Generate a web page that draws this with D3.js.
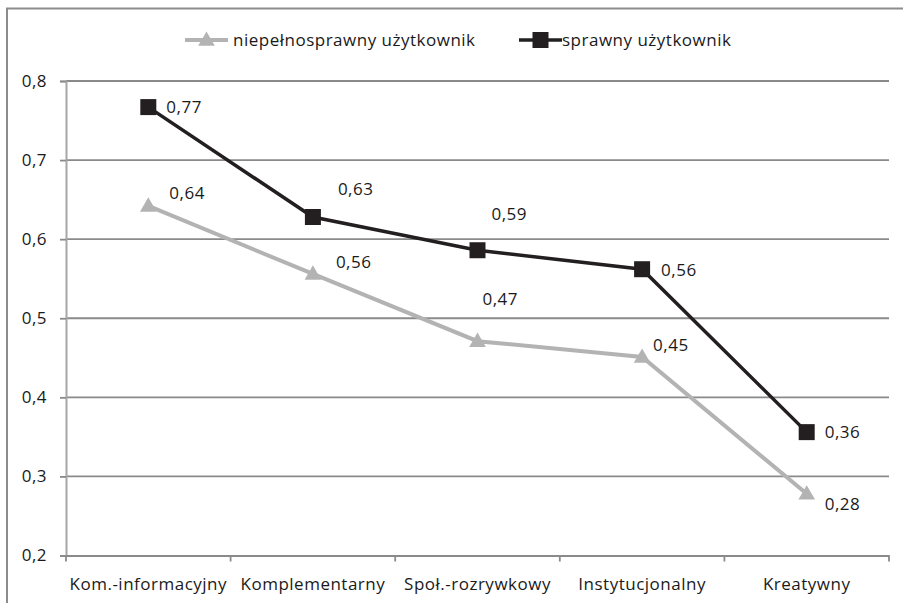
<!DOCTYPE html>
<html><head><meta charset="utf-8">
<script src="https://cdn.jsdelivr.net/npm/d3@7"></script>
<style>
html,body{margin:0;padding:0;background:#fff;}
text{font-family:"Open Sans",sans-serif;fill:#1a1a1a;letter-spacing:0.5px;}
</style></head>
<body>
<svg id="chart" width="903" height="603"></svg>
<script>
const categories = ["Kom.-informacyjny","Komplementarny","Społ.-rozrywkowy","Instytucjonalny","Kreatywny"];
const seriesNames = ["niepełnosprawny użytkownik","sprawny użytkownik"];
const disabledValues = [0.642, 0.556, 0.471, 0.451, 0.278];
const ableValues = [0.767, 0.628, 0.586, 0.562, 0.356];
const yTicks = [0.2,0.3,0.4,0.5,0.6,0.7,0.8];
// label offsets (styling), px relative to the marker
const disabledLabelOffsets = [[21,-7],[23,-6],[5,-36],[11,-6],[18,16]];
const ableLabelOffsets = [[18,6],[25,-22],[14,-30],[19,7],[18,6]];

(function(){
const svg = d3.select("#chart");
const fmt = v => d3.format(".2f")(v).replace(".", ",");
const fmt1 = v => d3.format(".1f")(v).replace(".", ",");
const FS = 17;

// outer frame (cropped on right/bottom)
svg.append("rect").attr("x",7).attr("y",8.5).attr("width",920).attr("height",620)
  .attr("fill","none").attr("stroke","#8c8c8c").attr("stroke-width",2);

const pL=66, pR=889, pT=81, pB=555.5;
const x = d3.scaleBand().domain(categories).range([pL,pR]);
const y = d3.scaleLinear().domain([0.2,0.8]).range([pB,pT]);

// gridlines
svg.append("g").selectAll("line").data(yTicks.slice(1)).join("line")
  .attr("x1",pL).attr("x2",pR).attr("y1",d=>y(d)).attr("y2",d=>y(d))
  .attr("stroke","#8a8a8a").attr("stroke-width",1.8);

// y axis
const yAxis = d3.axisLeft(y).tickValues(yTicks).tickFormat(fmt1).tickSize(6).tickPadding(13);
const gy = svg.append("g").attr("transform",`translate(${pL},0)`).call(yAxis);
gy.select(".domain").attr("stroke","#a6a6a6").attr("stroke-width",2);
gy.selectAll(".tick line").attr("stroke","#8a8a8a").attr("stroke-width",1.8);
gy.selectAll(".tick text").attr("font-size",FS).attr("font-family","Open Sans").attr("fill","#1a1a1a");

// x axis
const xAxis = d3.axisBottom(x).tickSize(0).tickPadding(22);
const gx = svg.append("g").attr("transform",`translate(0,${pB})`).call(xAxis);
gx.select(".domain").attr("stroke","#8a8a8a").attr("stroke-width",1.8);
gx.selectAll(".tick text").attr("font-size",FS).attr("font-family","Open Sans").attr("fill","#1a1a1a");
// band boundary ticks
svg.append("g").selectAll("line").data(categories.concat(["__end"])).join("line")
  .attr("x1",(d,i)=> i<categories.length ? x(d) : pR)
  .attr("x2",(d,i)=> i<categories.length ? x(d) : pR)
  .attr("y1",pB).attr("y2",pB+6)
  .attr("stroke","#8a8a8a").attr("stroke-width",1.8);

const cx = c => x(c) + x.bandwidth()/2;
const line = d3.line().x((d,i)=>cx(categories[i])).y(d=>y(d));

const grayC = "#b3b3b3", blackC = "#231f20";
const tri = d3.symbol().type(d3.symbolTriangle).size(120);
const sq = d3.symbol().type(d3.symbolSquare).size(256);

// gray series
svg.append("path").datum(disabledValues).attr("d",line).attr("fill","none")
  .attr("stroke",grayC).attr("stroke-width",4);
svg.append("g").selectAll("path").data(disabledValues).join("path")
  .attr("d",tri).attr("fill",grayC)
  .attr("transform",(d,i)=>`translate(${cx(categories[i])},${y(d)+1})`);

// black series
svg.append("path").datum(ableValues).attr("d",line).attr("fill","none")
  .attr("stroke",blackC).attr("stroke-width",3.5);
svg.append("g").selectAll("path").data(ableValues).join("path")
  .attr("d",sq).attr("fill",blackC)
  .attr("transform",(d,i)=>`translate(${cx(categories[i])},${y(d)})`);

// data labels
function labels(vals, offs){
  svg.append("g").selectAll("text").data(vals).join("text")
    .attr("x",(d,i)=>cx(categories[i])+offs[i][0])
    .attr("y",(d,i)=>y(d)+offs[i][1])
    .attr("font-size",FS).text(d=>fmt(d));
}
labels(disabledValues, disabledLabelOffsets);
labels(ableValues, ableLabelOffsets);

// legend
const leg = svg.append("g");
const legItems = [
  {name:seriesNames[0], color:grayC, sym:tri, sw:4, x0:185, tx:233},
  {name:seriesNames[1], color:blackC, sym:sq, sw:3.5, x0:519, tx:562}
];
legItems.forEach(it=>{
  leg.append("line").attr("x1",it.x0).attr("x2",it.x0+43).attr("y1",40).attr("y2",40)
    .attr("stroke",it.color).attr("stroke-width",it.sw);
  leg.append("path").attr("d",it.sym).attr("fill",it.color)
    .attr("transform",`translate(${it.x0+21.5},${it.sym===tri?41:40})`);
  leg.append("text").attr("x",it.tx).attr("y",46).attr("font-size",FS).text(it.name);
});
})();
</script>
</body></html>
